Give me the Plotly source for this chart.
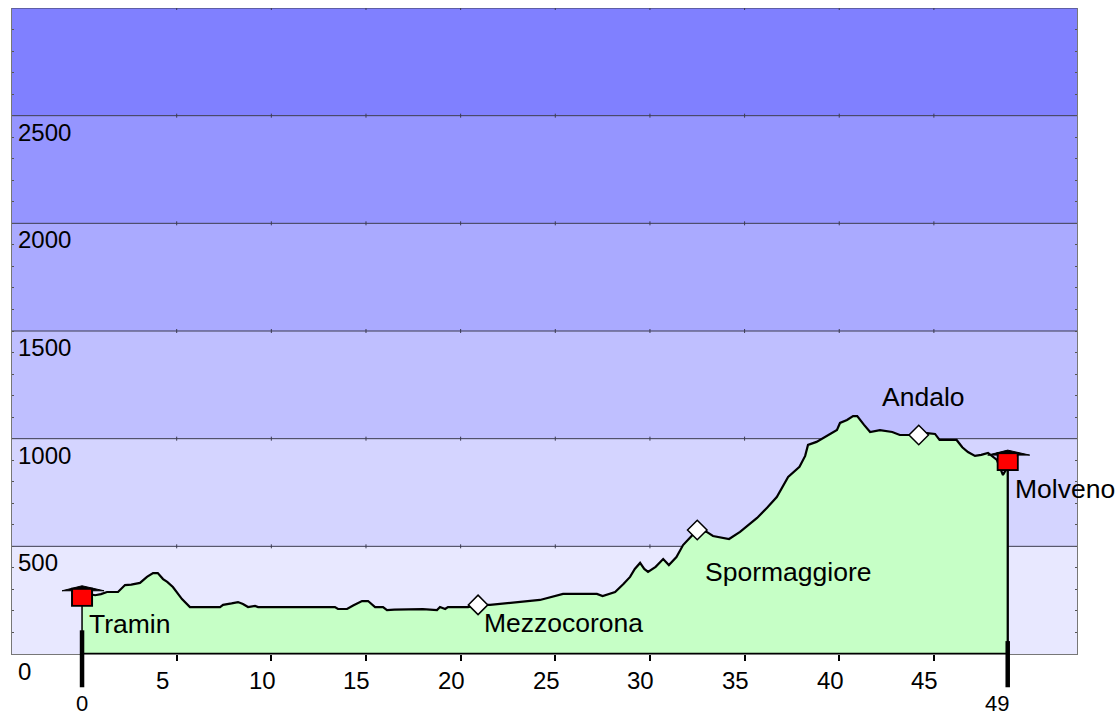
import plotly.graph_objects as go

km = [0, 0.4, 0.69, 1.0, 1.32, 1.9, 2.27, 2.6, 3.06, 3.43, 3.75, 4.0, 4.28, 4.5, 4.8, 5.28, 5.7,
      7.29, 7.45, 7.9, 8.24, 8.5, 8.77, 9.14, 9.3, 12.2, 13.36, 13.52, 14.0, 14.32, 14.79, 15.11, 15.48, 15.9,
      16.11, 16.5, 16.96, 17.22, 18.0, 18.75, 18.91, 19.18, 19.33, 20.39, 20.92, 21.55, 22.08, 23.14, 24.19, 25.41,
      27.2, 27.5, 28.16, 28.6, 28.95, 29.2, 29.48, 29.7, 29.9, 30.3, 30.7, 31.0, 31.4, 31.75, 32.5, 32.75, 33.0, 33.33,
      33.8, 34.18, 34.76, 35.2, 35.66, 36.2, 36.7, 37.3, 37.9, 38.2, 38.35, 38.8, 39.14, 39.5, 39.88, 40.04, 40.41, 40.73, 40.95,
      41.3, 41.63, 42.15, 42.8, 43.2, 43.7, 44.2, 44.64, 45.06, 45.3, 46.2, 46.5, 46.8, 47.17, 47.5, 47.86, 48.33, 48.65, 48.9, 48.9]
elev = [285, 280, 273, 278, 288, 288, 320, 322, 330, 358, 376, 376, 348, 335, 311, 255, 218,
        218, 228, 235, 241, 232, 218, 223, 218, 218, 218, 209, 209, 225, 246, 246, 218, 218,
        204, 206, 206, 209, 208, 204, 218, 209, 218, 218, 228, 228, 232, 241, 251, 279,
        279, 269, 288, 325, 358, 395, 423, 395, 381, 405, 441, 413, 450, 506, 576, 575, 567, 548,
        540, 534, 567, 600, 632, 680, 729, 822, 869, 920, 971, 985, 1003, 1020, 1040, 1073, 1087, 1105, 1105,
        1065, 1031, 1040, 1031, 1017, 1017, 1017, 1026, 1022, 994, 994, 960, 938, 920, 925, 934, 901, 831, 870, 0]

band_edges = [0, 500, 1000, 1500, 2000, 2500, 3000]
band_colors = ["#e8e8ff", "#d4d4ff", "#bfbfff", "#aaaaff", "#9595ff", "#8080ff"]
y_labels = ["0", "500", "1000", "1500", "2000", "2500"]
x_ticks = [5, 10, 15, 20, 25, 30, 35, 40, 45]

stops_km = [20.92, 32.5, 44.2]
stops_elev = [228, 576, 1017]
ends_km = [0, 48.9]
ends_base = [224, 854]
labels = ["Tramin", "Mezzocorona", "Spormaggiore", "Andalo", "Molveno"]
label_km = [0.25, 21.15, 32.8, 42.15, 49.2]
label_elev = [140, 142, 382, 1195, 768]

XMIN, XMAX = -3.7, 52.56
FONT = "Liberation Sans"
SIZE = 24
LABEL_SIZE = 26.5

fig = go.Figure()
fig.add_trace(go.Scatter(x=km, y=elev, mode="lines", line=dict(color="black", width=2.2),
                         fill="tozeroy", fillcolor="#c6ffc6", hoverinfo="skip"))
fig.add_trace(go.Scatter(x=stops_km, y=stops_elev, mode="markers", hoverinfo="skip",
                         marker=dict(symbol="diamond", size=15, color="white", line=dict(color="black", width=1.5))))

shapes = []
for i, c in enumerate(band_colors):
    shapes.append(dict(type="rect", xref="paper", yref="y", x0=0, x1=1, y0=band_edges[i], y1=band_edges[i + 1],
                       fillcolor=c, line_width=0, layer="below"))
for e in band_edges[1:]:
    shapes.append(dict(type="line", xref="paper", yref="y", x0=0, x1=1, y0=e, y1=e,
                       line=dict(color="#3c3c50", width=1), layer="below"))
    for k in x_ticks:
        shapes.append(dict(type="line", xref="x", yref="y", ysizemode="pixel", yanchor=e, x0=k, x1=k, y0=-2, y1=2,
                           line=dict(color="#3c3c50", width=1), layer="below"))

# baseline, start / finish posts
shapes.append(dict(type="line", xref="x", yref="y", x0=ends_km[0], x1=ends_km[1], y0=0, y1=0,
                   line=dict(color="black", width=2.5)))
for k, b, top in zip(ends_km, ends_base, [110, 60]):
    shapes.append(dict(type="line", xref="x", yref="y", x0=k, x1=k, y0=0, y1=b, line=dict(color="black", width=1.5)))
    shapes.append(dict(type="line", xref="x", yref="y", x0=k, x1=k, y0=0, y1=top, line=dict(color="black", width=4.5)))
    shapes.append(dict(type="line", xref="x", yref="paper", x0=k, x1=k, y0=-0.0515, y1=0, line=dict(color="black", width=4.5)))
    # house marker: red body with flat black roof
    shapes.append(dict(type="path", xref="x", yref="y", xsizemode="pixel", ysizemode="pixel", xanchor=k, yanchor=b,
                       path="M-10,0 L10,0 L10,17 L-10,17 Z", fillcolor="#ff0000", line=dict(color="black", width=2)))
    shapes.append(dict(type="path", xref="x", yref="y", xsizemode="pixel", ysizemode="pixel", xanchor=k, yanchor=b,
                       path="M-20,15 L-10,15 L-10,14 L10,14 L10,15 L22,15 L0,20 Z", fillcolor="black", line=dict(color="black", width=1)))
    shapes.append(dict(type="path", xref="x", yref="y", xsizemode="pixel", ysizemode="pixel", xanchor=k, yanchor=b,
                       path="M-9,1 L9,1 L9,16 L-9,16 Z", fillcolor="#ff0000", line_width=0))

ann = []
for v, t in zip(band_edges[1:], y_labels[1:]):
    ann.append(dict(x=0, xref="paper", y=v, yref="y", text=t, showarrow=False, xanchor="left", yanchor="top",
                    xshift=4, yshift=-1))
ann.append(dict(x=0, xref="paper", y=0, yref="y", text=y_labels[0], showarrow=False, xanchor="left", yanchor="top",
                xshift=4, yshift=-2))
for k in x_ticks:
    ann.append(dict(x=k, xref="x", y=0, yref="paper", text=str(k), showarrow=False, xanchor="center", yanchor="top",
                    xshift=-14 if k == 5 else -9, yshift=-11))
ann.append(dict(x=ends_km[0], xref="x", y=0, yref="paper", text="0", showarrow=False, xanchor="center", yanchor="top",
                yshift=-35, font=dict(size=SIZE - 2)))
ann.append(dict(x=ends_km[1], xref="x", y=0, yref="paper", text="49", showarrow=False, xanchor="right", yanchor="top",
                yshift=-35, xshift=3, font=dict(size=SIZE - 2)))
for t, x, y in zip(labels, label_km, label_elev):
    ann.append(dict(x=x, y=y, text=t, showarrow=False, xanchor="left", yanchor="middle", font=dict(size=LABEL_SIZE)))

fig.update_layout(
    width=1120, height=715, margin=dict(l=12, r=43, t=8, b=61), showlegend=False,
    paper_bgcolor="white", plot_bgcolor="white", shapes=shapes, annotations=ann,
    font=dict(family=FONT, size=SIZE, color="black"),
    xaxis=dict(range=[XMIN, XMAX], tickvals=x_ticks, ticks="outside", ticklen=6, tickwidth=2, tickcolor="black",
               showticklabels=False, showgrid=False, zeroline=False, showline=True, linecolor="#777777", linewidth=1),
    yaxis=dict(range=[0, 3000], dtick=100, ticks="inside", ticklen=2, tickwidth=1, tickcolor="#555555",
               showticklabels=False, showgrid=False, zeroline=False, showline=True, mirror="ticks",
               linecolor="#777777", linewidth=1),
)
fig.write_html("out.html", config=dict(displayModeBar=False),
               post_script="document.body.style.margin='0';document.body.style.overflow='hidden';")
